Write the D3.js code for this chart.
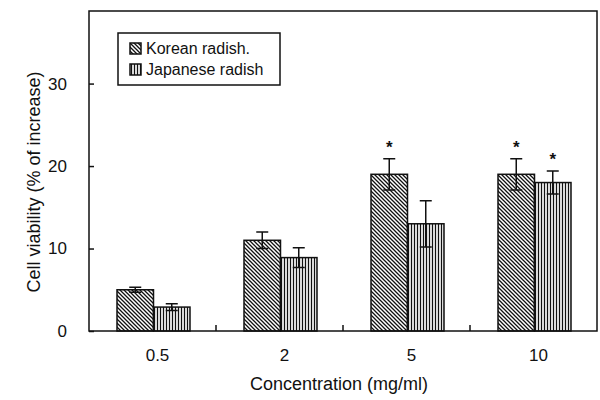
<!DOCTYPE html>
<html>
<head>
<meta charset="UTF-8">
<style>
    body { margin: 0; background: #ffffff; }
    svg text { font-family: Arial, "Liberation Sans", sans-serif; fill: #111; }
</style>
</head>
<body>
<svg id="chart" width="600" height="400"></svg>
<script src="https://cdn.jsdelivr.net/npm/d3@7"></script>
<script>
// data
var concentrations = ["0.5", "2", "5", "10"];
var seriesNames = ["Korean radish.", "Japanese radish"];
var koreanValues = [5.0, 11.0, 19.0, 19.0];
var koreanErrors = [0.3, 1.0, 1.9, 1.9];
var japaneseValues = [2.9, 8.9, 13.0, 18.0];
var japaneseErrors = [0.4, 1.2, 2.8, 1.4];
var koreanStars = [false, false, true, true];
var japaneseStars = [false, false, false, true];
var yTicks = [0, 10, 20, 30];

var svg = d3.select("#chart");
var margin = {top: 11, right: 3, bottom: 69, left: 89};
var width = 600 - margin.left - margin.right;
var height = 400 - margin.top - margin.bottom;

// hatch patterns
var defs = svg.append("defs");
var pk = defs.append("pattern").attr("id", "hatchK")
    .attr("patternUnits", "userSpaceOnUse").attr("width", 4).attr("height", 4);
pk.append("rect").attr("width", 4).attr("height", 4).attr("fill", "#fff");
pk.append("path").attr("d", "M-1,-1L5,5M-1,3L1,5M3,-1L5,1")
    .attr("stroke", "#111").attr("stroke-width", 1.3);
var pj = defs.append("pattern").attr("id", "hatchJ")
    .attr("patternUnits", "userSpaceOnUse").attr("width", 3).attr("height", 3);
pj.append("rect").attr("width", 3).attr("height", 3).attr("fill", "#fff");
pj.append("path").attr("d", "M1.5,0L1.5,3")
    .attr("stroke", "#111").attr("stroke-width", 1.3);

var g = svg.append("g").attr("transform", "translate(" + margin.left + "," + margin.top + ")");

var x0 = d3.scaleBand().domain(concentrations).range([0, width]).padding(0);
var x1 = d3.scaleBand().domain(seriesNames).range([0, 73]);
var y = d3.scaleLinear().domain([0, 38.8]).range([height, 0]);

var rows = concentrations.map(function(c, i) {
    return [
        {name: seriesNames[0], c: c, v: koreanValues[i], e: koreanErrors[i], star: koreanStars[i], fill: "url(#hatchK)"},
        {name: seriesNames[1], c: c, v: japaneseValues[i], e: japaneseErrors[i], star: japaneseStars[i], fill: "url(#hatchJ)"}
    ];
});
var off = (x0.bandwidth() - 73) / 2 + 1;

var groups = g.selectAll(".grp").data(rows).enter().append("g")
    .attr("transform", function(d, i) { return "translate(" + (x0(concentrations[i]) + off) + ",0)"; });

// bars
groups.selectAll("rect").data(function(d) { return d; }).enter().append("rect")
    .attr("x", function(d) { return x1(d.name); })
    .attr("y", function(d) { return y(d.v); })
    .attr("width", x1.bandwidth())
    .attr("height", function(d) { return height - y(d.v); })
    .attr("fill", function(d) { return d.fill; })
    .attr("stroke", "#111").attr("stroke-width", 1.5);

// error bars
var eb = groups.selectAll(".eb").data(function(d) { return d; }).enter().append("g")
    .attr("transform", function(d) { return "translate(" + (x1(d.name) + x1.bandwidth() / 2) + ",0)"; });
eb.append("path")
    .attr("d", function(d) {
        var t = y(d.v + d.e), b = y(d.v - d.e);
        return "M0," + t + "L0," + b + "M-6," + t + "L6," + t + "M-6," + b + "L6," + b;
    })
    .attr("stroke", "#111").attr("stroke-width", 1.5).attr("fill", "none");
eb.filter(function(d) { return d.star; }).append("text")
    .attr("y", function(d) { return y(d.v + d.e) - 6; })
    .attr("text-anchor", "middle")
    .style("font-size", "17px").style("font-weight", "bold")
    .text("*");

// frame
g.append("rect").attr("width", width).attr("height", height)
    .attr("fill", "none").attr("stroke", "#111").attr("stroke-width", 1.5);

// y axis
var yAxis = g.append("g")
    .call(d3.axisLeft(y).tickValues(yTicks).tickSize(-5).tickPadding(22).tickFormat(d3.format("d")));
yAxis.select(".domain").remove();
yAxis.selectAll("line").attr("stroke", "#111").attr("stroke-width", 1.5);
yAxis.selectAll("text").style("font-size", "17px").attr("fill", "#111");

// x axis: tick marks at group boundaries, labels at centers
var bounds = concentrations.slice(1);
g.selectAll(".xt").data(bounds).enter().append("line")
    .attr("x1", function(d) { return x0(d); }).attr("x2", function(d) { return x0(d); })
    .attr("y1", height).attr("y2", height - 6)
    .attr("stroke", "#111").attr("stroke-width", 1.5);
var xAxis = g.append("g").attr("transform", "translate(0," + height + ")")
    .call(d3.axisBottom(x0).tickSize(0).tickPadding(18));
xAxis.select(".domain").remove();
xAxis.selectAll("text").style("font-size", "17px").attr("fill", "#111").attr("dx", 5);

// axis titles
g.append("text").attr("x", width / 2 - 4).attr("y", height + 59)
    .attr("text-anchor", "middle").style("font-size", "18px")
    .text("Concentration (mg/ml)");
g.append("text").attr("transform", "translate(-49," + (height / 2 + 11) + ") rotate(-90)")
    .attr("text-anchor", "middle").style("font-size", "18px")
    .text("Cell viability (% of increase)");

// legend
var lg = svg.append("g").attr("transform", "translate(118,33)");
lg.append("rect").attr("width", 162).attr("height", 52)
    .attr("fill", "#fff").attr("stroke", "#111").attr("stroke-width", 1.5);
var li = lg.selectAll(".li").data(seriesNames).enter().append("g")
    .attr("transform", function(d, i) { return "translate(12," + (10 + i * 21) + ")"; });
li.append("rect").attr("width", 11).attr("height", 11)
    .attr("fill", function(d, i) { return i === 0 ? "url(#hatchK)" : "url(#hatchJ)"; })
    .attr("stroke", "#111").attr("stroke-width", 1.5);
li.append("text").attr("x", 16).attr("y", 11).style("font-size", "16px")
    .text(function(d) { return d; });
</script>
</body>
</html>
